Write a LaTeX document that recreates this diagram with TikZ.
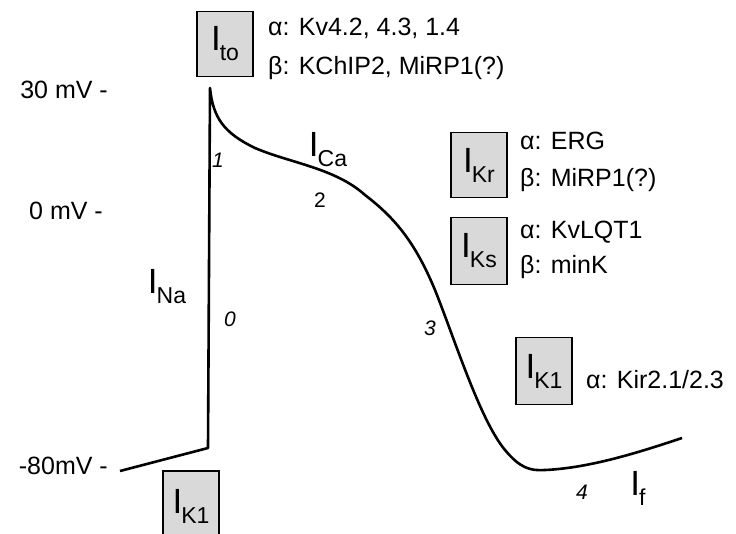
\documentclass[tikz,border=0pt]{standalone}
\usepackage{fontspec}
\setmainfont{Liberation Sans}
\newcommand{\curr}[1]{{\fontsize{35}{35}\selectfont I}\hspace{-1pt}\raisebox{-10pt}{\fontsize{23}{23}\selectfont #1}}
\begin{document}
\begin{tikzpicture}[x=1pt,y=-1pt,
	chanbox/.style={draw,line width=1.2pt,fill=black!15,minimum width=56pt,minimum height=65pt,inner sep=0,outer sep=0},
	subunit/.style={anchor=west,inner sep=0,font=\fontsize{25}{25}\selectfont},
	level/.style={anchor=east,inner sep=0,font=\fontsize{25}{25}\selectfont},
	phase/.style={inner sep=0,font=\fontsize{21}{21}\selectfont\itshape},
	trace/.style={line width=2.6pt,line join=round}]
	\useasboundingbox (0,0) rectangle (736,533);
	\node[level] (v30) at (108,90) {30 mV -};
	\node[level] (v0) at (103,211) {0 mV -};
	\node[level] (v80) at (108,466) {-80mV -};
	\draw[trace] (120,471) -- (208,448) -- (210,88) .. controls (213,118) and (224,133) .. (255,148) .. controls (290,163) and (335,168) .. (365,195) .. controls (395,218) and (415,242) .. (435,290) .. controls (455,340) and (480,420) .. (505,450) .. controls (520,468) and (530,471) .. (545,470) .. controls (590,468) and (640,452) .. (682,438);
	\node[chanbox] (Ito) at (225,44) {\curr{to}};
	\node[subunit] (Itoa) at (268,28) {α: Kv4.2, 4.3, 1.4};
	\node[subunit] (Itob) at (268,68) {β: KChIP2, MiRP1(?)};
	\node[chanbox] (IKr) at (479,165) {\curr{Kr}};
	\node[subunit] (IKra) at (520,141) {α: ERG};
	\node[subunit] (IKrb) at (520,180) {β: MiRP1(?)};
	\node[chanbox,minimum height=67pt] (IKs) at (479,251) {\curr{Ks}};
	\node[subunit] (IKsa) at (520,232) {α: KvLQT1};
	\node[subunit] (IKsb) at (520,267) {β: minK};
	\node[chanbox,minimum height=67pt] (IKa) at (544,371) {\curr{K1}};
	\node[subunit] (IKaa) at (586,380) {α: Kir2.1/2.3};
	\node[chanbox,minimum height=70pt] (IKb) at (191,506) {\curr{K1}};
	\node[inner sep=0] (INa) at (167,287) {\curr{Na}};
	\node[inner sep=0] (ICa) at (328,150) {\curr{Ca}};
	\node[inner sep=0] (If) at (638,488) {\curr{f}};
	\node[phase] (p0) at (230,319) {0};
	\node[phase] (p1) at (218,160) {1};
	\node[phase,font=\fontsize{21}{21}\selectfont] (p2) at (320,200) {2};
	\node[phase] (p3) at (430,328) {3};
	\node[phase] (p4) at (582,492) {4};
\end{tikzpicture}
\end{document}
